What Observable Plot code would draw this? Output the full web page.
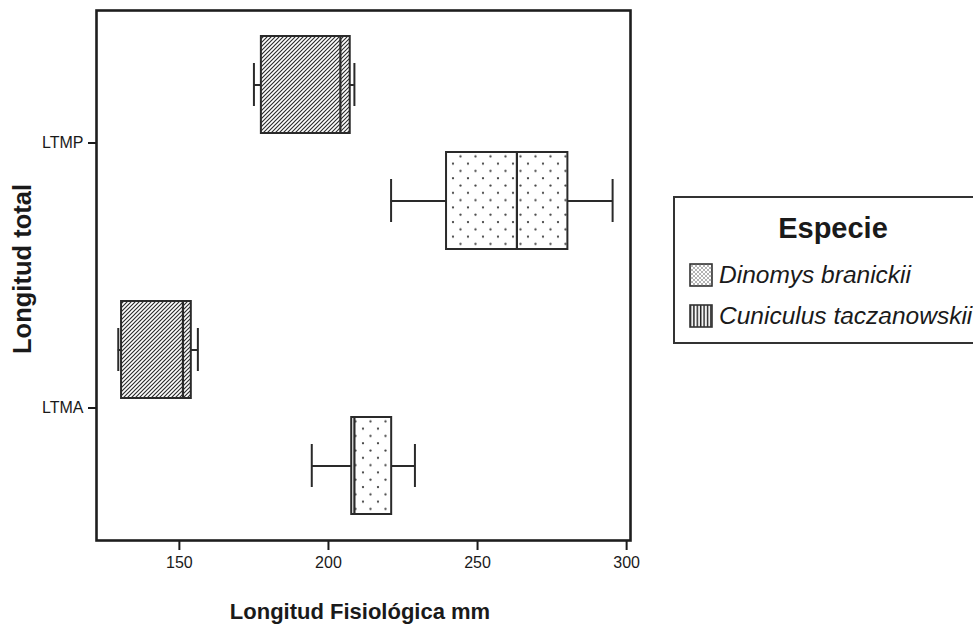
<!DOCTYPE html>
<html><head><meta charset="utf-8">
<script src="https://cdn.jsdelivr.net/npm/d3@7"></script>
<script src="https://cdn.jsdelivr.net/npm/@observablehq/plot@0.6"></script>
<style>
body{margin:0;background:#fff;font-family:"Liberation Sans",Arial,sans-serif;color:#1a1a1a;}
#wrap{position:relative;width:973px;height:625px;overflow:hidden;background:#fff;}
#wrap > svg.chart{position:absolute;left:0;top:0;}
#wrap > svg.chart text{font-size:16px !important;fill:#1a1a1a;}
.xtitle{position:absolute;left:360px;top:612px;transform:translate(-50%,-50%);font-weight:bold;font-size:22px;white-space:nowrap;}
.ytitle{position:absolute;left:22px;top:269px;transform:translate(-50%,-50%) rotate(-90deg);font-weight:bold;font-size:25.5px;white-space:nowrap;}
.legend{position:absolute;left:673px;top:196px;width:320px;height:144px;border:2px solid #333;box-sizing:content-box;}
.legend .ttl{position:absolute;left:0;width:316px;top:14px;text-align:center;font-weight:bold;font-size:29px;}
.legend .item{position:absolute;left:14px;display:flex;align-items:center;font-style:italic;font-size:24.5px;white-space:nowrap;}
.legend .item svg{margin-right:6px;flex:none;}
</style></head><body><div id="wrap"></div>
<script>
const categories = ["LTMP", "LTMA"];
const species = ["Cuniculus taczanowskii", "Dinomys branickii"];
// five-number summaries per category (LTMP, LTMA)
const cuniculusMin    = [175.0, 129.5];
const cuniculusQ1     = [177.5, 130.6];
const cuniculusMedian = [204.0, 151.2];
const cuniculusQ3     = [207.3, 154.0];
const cuniculusMax    = [208.7, 156.2];
const dinomysMin      = [221.0, 194.4];
const dinomysQ1       = [239.6, 207.8];
const dinomysMedian   = [263.2, 208.7];
const dinomysQ3       = [280.3, 221.2];
const dinomysMax      = [295.3, 229.0];
const xTicks = [150, 200, 250, 300];
const legendItems = ["Dinomys branickii", "Cuniculus taczanowskii"];

const rows = [];
categories.forEach((c, i) => {
  rows.push({cat: c, sp: species[0], min: cuniculusMin[i], q1: cuniculusQ1[i], med: cuniculusMedian[i], q3: cuniculusQ3[i], max: cuniculusMax[i]});
  rows.push({cat: c, sp: species[1], min: dinomysMin[i], q1: dinomysQ1[i], med: dinomysMedian[i], q3: dinomysQ3[i], max: dinomysMax[i]});
});

const ink = "#2a2a2a";
const plot = Plot.plot({
  width: 973, height: 625,
  marginLeft: 96, marginRight: 343, marginTop: 10, marginBottom: 85,
  style: {fontFamily: "Liberation Sans, Arial, sans-serif", fontSize: "16px", color: "#1a1a1a", background: "transparent"},
  x: {domain: [122.2, 301.3]},
  y: {domain: species, axis: null, paddingInner: 0.164, paddingOuter: 0.224},
  fy: {domain: categories, padding: 0},
  color: {domain: species, range: ["url(#hatch)", "url(#dots)"]},
  marks: [
    Plot.ruleY(rows, {fy: "cat", y: "sp", x1: "min", x2: "max", stroke: ink, strokeWidth: 2}),
    Plot.tickX(rows, {fy: "cat", y: "sp", x: "min", stroke: ink, strokeWidth: 2, insetTop: 27, insetBottom: 27}),
    Plot.tickX(rows, {fy: "cat", y: "sp", x: "max", stroke: ink, strokeWidth: 2, insetTop: 27, insetBottom: 27}),
    Plot.barX(rows, {fy: "cat", y: "sp", x1: "q1", x2: "q3", fill: "sp", stroke: ink, strokeWidth: 2}),
    Plot.tickX(rows, {fy: "cat", y: "sp", x: "med", stroke: ink, strokeWidth: 2.2}),
    Plot.axisX({ticks: xTicks, tickSize: 10, tickPadding: 6, strokeWidth: 2, label: null, fontSize: 16}),
    Plot.axisFy({anchor: "left", tickSize: 8, tickPadding: 5, strokeWidth: 2, label: null, fontSize: 16}),
    Plot.frame({facet: "super", stroke: "#1e1e1e", strokeWidth: 2.6})
  ]
});
plot.classList.add("chart");

const defs = d3.select(plot).insert("defs", ":first-child");
const hatch = defs.append("pattern").attr("id", "hatch").attr("patternUnits", "userSpaceOnUse")
  .attr("width", 4).attr("height", 4);
hatch.append("rect").attr("width", 4).attr("height", 4).attr("fill", "#fff");
hatch.append("path").attr("d", "M-1,1 l2,-2 M0,4 l4,-4 M3,5 l2,-2").attr("stroke", "#2a2a2a").attr("stroke-width", 1.15);
const dots = defs.append("pattern").attr("id", "dots").attr("patternUnits", "userSpaceOnUse")
  .attr("width", 15).attr("height", 14.6);
dots.append("rect").attr("width", 15).attr("height", 14.6).attr("fill", "#fff");
dots.append("circle").attr("cx", 3).attr("cy", 3).attr("r", 1.15).attr("fill", "#444");
dots.append("circle").attr("cx", 10.5).attr("cy", 10.3).attr("r", 1.15).attr("fill", "#444");

const wrap = document.getElementById("wrap");
wrap.appendChild(plot);

const xt = document.createElement("div"); xt.className = "xtitle"; xt.textContent = "Longitud Fisiológica mm"; wrap.appendChild(xt);
const yt = document.createElement("div"); yt.className = "ytitle"; yt.textContent = "Longitud total"; wrap.appendChild(yt);

const lg = document.createElement("div"); lg.className = "legend";
lg.innerHTML = `<div class="ttl">Especie</div>`;
const swatches = [
  `<svg width="24" height="24"><defs><pattern id="ldots" patternUnits="userSpaceOnUse" width="4" height="4"><rect width="4" height="4" fill="#fff"/><circle cx="1" cy="1" r="0.8" fill="#555"/><circle cx="3" cy="3" r="0.8" fill="#555"/></pattern></defs><rect x="1" y="1" width="22" height="22" fill="url(#ldots)" stroke="#333" stroke-width="1.6"/></svg>`,
  `<svg width="24" height="24"><defs><pattern id="lvert" patternUnits="userSpaceOnUse" width="3.4" height="4"><rect width="3.4" height="4" fill="#fff"/><line x1="1.5" y1="0" x2="1.5" y2="4" stroke="#222" stroke-width="1.5"/></pattern></defs><rect x="1" y="1" width="22" height="22" fill="url(#lvert)" stroke="#333" stroke-width="1.6"/></svg>`
];
legendItems.forEach((name, i) => {
  const it = document.createElement("div"); it.className = "item";
  it.style.top = (63 + i * 41) + "px";
  it.innerHTML = swatches[i] + `<span>${name}</span>`;
  lg.appendChild(it);
});
wrap.appendChild(lg);
</script>
</body></html>
